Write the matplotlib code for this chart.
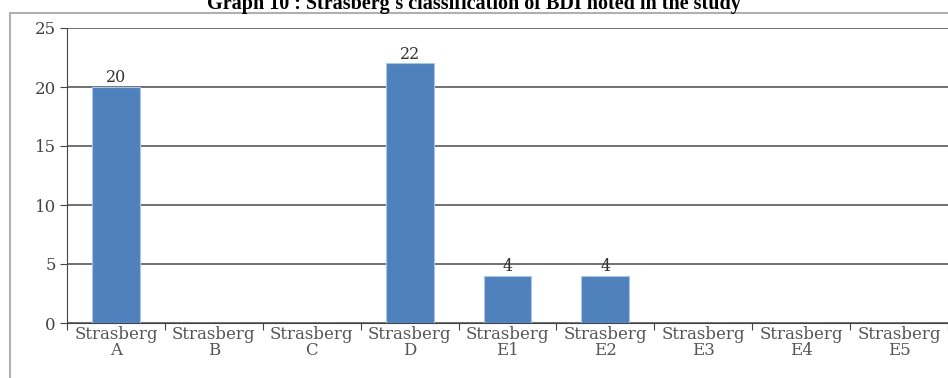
import matplotlib.pyplot as plt
from matplotlib.patches import Rectangle

categories = ["Strasberg\nA", "Strasberg\nB", "Strasberg\nC", "Strasberg\nD",
              "Strasberg\nE1", "Strasberg\nE2", "Strasberg\nE3", "Strasberg\nE4",
              "Strasberg\nE5"]
counts = [20, 0, 0, 22, 4, 4, 0, 0, 0]

fig = plt.figure(figsize=(9.48, 3.78), dpi=100)
ax = fig.add_axes([67 / 948, 55 / 378, 881 / 948, 295 / 378])

x = range(len(categories))
bars = ax.bar(x, counts, width=0.49, color="#4f81bd", edgecolor="#a9c6e8",
              linewidth=0.8, zorder=3)

for xi, v in zip(x, counts):
    if v > 0:
        ax.text(xi, v + 0.05, str(v), ha="center", va="bottom",
                family="DejaVu Serif", fontsize=11.5, color="#333333")

ax.set_xlim(-0.5, len(categories) - 0.5)
ax.set_ylim(0, 25)
ax.set_yticks([0, 5, 10, 15, 20, 25])
ax.grid(axis="y", color="#4a4a4a", linewidth=1.1, zorder=0)

# boundary ticks between categories, labels centred under each bar
ax.set_xticks([i + 0.5 for i in range(-1, len(categories))], minor=False)
ax.set_xticklabels([])
ax.set_xticks(list(x), minor=True)
ax.set_xticklabels(categories, minor=True, family="DejaVu Serif",
                   fontsize=12, color="#555555", linespacing=0.95)
ax.tick_params(axis="x", which="minor", length=0, pad=2)
ax.tick_params(axis="x", which="major", length=5, color="#444444", direction="out")
ax.tick_params(axis="y", length=5, color="#444444", labelsize=12,
               labelcolor="#444444", pad=3)
for lbl in ax.get_yticklabels():
    lbl.set_family("DejaVu Serif")

for s in ["top", "right"]:
    ax.spines[s].set_visible(False)
ax.spines["left"].set_color("#444444")
ax.spines["bottom"].set_color("#444444")

# outer frame around the chart area
fig.add_artist(Rectangle((10 / 948, -0.1), 1.0, 1 - 13 / 378 + 0.1,
                         transform=fig.transFigure, fill=False,
                         edgecolor="#b0b0b0", linewidth=1.5))

fig.text(0.5, 1 - 9 / 378, "Graph 10 : Strasberg's classification of BDI noted in the study",
         ha="center", va="baseline", family="Liberation Serif",
         fontweight="bold", fontsize=14.5, color="#000000")

fig.savefig("out.png", dpi=100)
